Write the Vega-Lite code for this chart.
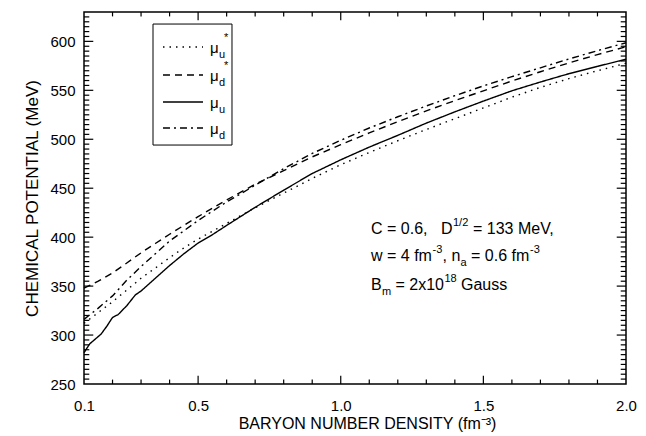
{
  "$schema": "https://vega.github.io/schema/vega-lite/v6.json",
  "autosize": "none",
  "width": 542,
  "height": 372,
  "padding": {"left": 84, "top": 12, "right": 20, "bottom": 52},
  "background": "white",
  "data": {"values": [{}]},
  "config": {
    "view": {"stroke": "black", "strokeWidth": 1.5},
    "text": {"font": "Liberation Sans", "color": "black"}
  },
  "resolve": {"axis": {"x": "independent", "y": "independent"}},
  "layer": [
    {
      "data": {"values": [
        {"n": 0.1, "mu": 312, "s": "μu*"}, {"n": 0.15, "mu": 323, "s": "μu*"}, {"n": 0.2, "mu": 334, "s": "μu*"}, {"n": 0.25, "mu": 346, "s": "μu*"}, {"n": 0.3, "mu": 358, "s": "μu*"}, {"n": 0.35, "mu": 368.5, "s": "μu*"}, {"n": 0.4, "mu": 379, "s": "μu*"}, {"n": 0.45, "mu": 389, "s": "μu*"}, {"n": 0.5, "mu": 398, "s": "μu*"}, {"n": 0.6, "mu": 414, "s": "μu*"}, {"n": 0.7, "mu": 430, "s": "μu*"}, {"n": 0.8, "mu": 445, "s": "μu*"}, {"n": 0.9, "mu": 460, "s": "μu*"}, {"n": 1.0, "mu": 474, "s": "μu*"}, {"n": 1.1, "mu": 486.5, "s": "μu*"}, {"n": 1.2, "mu": 498.5, "s": "μu*"}, {"n": 1.3, "mu": 510, "s": "μu*"}, {"n": 1.4, "mu": 521, "s": "μu*"}, {"n": 1.5, "mu": 532, "s": "μu*"}, {"n": 1.6, "mu": 543, "s": "μu*"}, {"n": 1.7, "mu": 553, "s": "μu*"}, {"n": 1.8, "mu": 562, "s": "μu*"}, {"n": 1.9, "mu": 570, "s": "μu*"}, {"n": 2.0, "mu": 577.6, "s": "μu*"},
        {"n": 0.1, "mu": 348, "s": "μd*"}, {"n": 0.15, "mu": 355, "s": "μd*"}, {"n": 0.2, "mu": 363.5, "s": "μd*"}, {"n": 0.25, "mu": 373.6, "s": "μd*"}, {"n": 0.3, "mu": 384, "s": "μd*"}, {"n": 0.35, "mu": 393.5, "s": "μd*"}, {"n": 0.4, "mu": 403, "s": "μd*"}, {"n": 0.5, "mu": 421, "s": "μd*"}, {"n": 0.6, "mu": 438, "s": "μd*"}, {"n": 0.7, "mu": 454, "s": "μd*"}, {"n": 0.8, "mu": 468, "s": "μd*"}, {"n": 0.9, "mu": 482, "s": "μd*"}, {"n": 1.0, "mu": 494.5, "s": "μd*"}, {"n": 1.1, "mu": 506.5, "s": "μd*"}, {"n": 1.2, "mu": 518, "s": "μd*"}, {"n": 1.3, "mu": 529, "s": "μd*"}, {"n": 1.4, "mu": 539.5, "s": "μd*"}, {"n": 1.5, "mu": 549.5, "s": "μd*"}, {"n": 1.6, "mu": 559.5, "s": "μd*"}, {"n": 1.7, "mu": 569, "s": "μd*"}, {"n": 1.8, "mu": 578, "s": "μd*"}, {"n": 1.9, "mu": 586.5, "s": "μd*"}, {"n": 2.0, "mu": 594.5, "s": "μd*"},
        {"n": 0.1, "mu": 282, "s": "μu"}, {"n": 0.12, "mu": 291, "s": "μu"}, {"n": 0.14, "mu": 296, "s": "μu"}, {"n": 0.16, "mu": 301, "s": "μu"}, {"n": 0.18, "mu": 309, "s": "μu"}, {"n": 0.2, "mu": 318, "s": "μu"}, {"n": 0.22, "mu": 321, "s": "μu"}, {"n": 0.25, "mu": 330, "s": "μu"}, {"n": 0.28, "mu": 341, "s": "μu"}, {"n": 0.3, "mu": 345, "s": "μu"}, {"n": 0.35, "mu": 358, "s": "μu"}, {"n": 0.4, "mu": 371, "s": "μu"}, {"n": 0.45, "mu": 383, "s": "μu"}, {"n": 0.5, "mu": 394, "s": "μu"}, {"n": 0.55, "mu": 402.5, "s": "μu"}, {"n": 0.6, "mu": 412, "s": "μu"}, {"n": 0.7, "mu": 430.5, "s": "μu"}, {"n": 0.8, "mu": 448, "s": "μu"}, {"n": 0.9, "mu": 465, "s": "μu"}, {"n": 1.0, "mu": 479, "s": "μu"}, {"n": 1.1, "mu": 492, "s": "μu"}, {"n": 1.2, "mu": 504, "s": "μu"}, {"n": 1.3, "mu": 516.5, "s": "μu"}, {"n": 1.4, "mu": 528, "s": "μu"}, {"n": 1.5, "mu": 539, "s": "μu"}, {"n": 1.6, "mu": 549.5, "s": "μu"}, {"n": 1.7, "mu": 558.5, "s": "μu"}, {"n": 1.8, "mu": 567, "s": "μu"}, {"n": 1.9, "mu": 574.5, "s": "μu"}, {"n": 2.0, "mu": 581.7, "s": "μu"},
        {"n": 0.1, "mu": 316, "s": "μd"}, {"n": 0.15, "mu": 327.5, "s": "μd"}, {"n": 0.2, "mu": 340, "s": "μd"}, {"n": 0.25, "mu": 356, "s": "μd"}, {"n": 0.3, "mu": 370, "s": "μd"}, {"n": 0.35, "mu": 383, "s": "μd"}, {"n": 0.4, "mu": 396, "s": "μd"}, {"n": 0.5, "mu": 417, "s": "μd"}, {"n": 0.6, "mu": 436, "s": "μd"}, {"n": 0.7, "mu": 453, "s": "μd"}, {"n": 0.8, "mu": 470, "s": "μd"}, {"n": 0.9, "mu": 485.5, "s": "μd"}, {"n": 1.0, "mu": 499, "s": "μd"}, {"n": 1.1, "mu": 511.5, "s": "μd"}, {"n": 1.2, "mu": 523, "s": "μd"}, {"n": 1.3, "mu": 534, "s": "μd"}, {"n": 1.4, "mu": 544.5, "s": "μd"}, {"n": 1.5, "mu": 554.5, "s": "μd"}, {"n": 1.6, "mu": 564, "s": "μd"}, {"n": 1.7, "mu": 573, "s": "μd"}, {"n": 1.8, "mu": 582, "s": "μd"}, {"n": 1.9, "mu": 590.5, "s": "μd"}, {"n": 2.0, "mu": 598.6, "s": "μd"}
      ]},
      "mark": {"type": "line", "color": "black", "strokeWidth": 1.4},
      "encoding": {
        "x": {"field": "n", "type": "quantitative",
          "scale": {"domain": [0.1, 2.0], "nice": false, "zero": false},
          "axis": {"orient": "bottom", "values": [0.1, 0.5, 1.0, 1.5, 2.0], "format": ".1f",
            "ticks": false, "domain": false, "grid": false,
            "labelFlush": false, "labelOverlap": false, "labelPadding": 14,
            "labelFont": "Liberation Sans", "labelFontSize": 15, "labelColor": "black",
            "title": "BARYON NUMBER DENSITY (fm⁻³)", "titleFont": "Liberation Sans", "titleFontSize": 16, "titleFontWeight": "normal", "titleColor": "black", "titlePadding": 2, "titleX": 283}},
        "y": {"field": "mu", "type": "quantitative",
          "scale": {"domain": [250, 630], "nice": false, "zero": false},
          "axis": {"orient": "left", "values": [250, 300, 350, 400, 450, 500, 550, 600],
            "ticks": false, "domain": false, "grid": false,
            "labelFlush": false, "labelOverlap": false, "labelPadding": 9,
            "labelFont": "Liberation Sans", "labelFontSize": 15, "labelColor": "black",
            "title": "CHEMICAL POTENTIAL (MeV)", "titleFont": "Liberation Sans", "titleFontSize": 17, "titleFontWeight": "normal", "titleColor": "black", "titlePadding": 8}},
        "strokeDash": {"field": "s", "type": "nominal",
          "scale": {"domain": ["μu*", "μd*", "μu", "μd"], "range": [[1.5, 5], [7, 5], [1, 0], [7, 4, 2, 4]]},
          "legend": null}
      }
    },
    {"data": {"values": [{"t": 0.2}, {"t": 0.3}, {"t": 0.4}, {"t": 0.6}, {"t": 0.7}, {"t": 0.8}, {"t": 0.9}, {"t": 1.1}, {"t": 1.2}, {"t": 1.3}, {"t": 1.4}, {"t": 1.6}, {"t": 1.7}, {"t": 1.8}, {"t": 1.9}]},
     "layer": [
       {"mark": {"type": "rule", "color": "black", "strokeWidth": 1.2},
        "encoding": {"x": {"field": "t", "type": "quantitative", "axis": null}, "y": {"datum": 250, "type": "quantitative", "axis": null}, "y2": {"datum": 254.5}}},
       {"mark": {"type": "rule", "color": "black", "strokeWidth": 1.2},
        "encoding": {"x": {"field": "t", "type": "quantitative", "axis": null}, "y": {"datum": 630, "type": "quantitative", "axis": null}, "y2": {"datum": 625.5}}}
     ]},
    {"data": {"values": [{"t": 0.5}, {"t": 1.0}, {"t": 1.5}]},
     "layer": [
       {"mark": {"type": "rule", "color": "black", "strokeWidth": 1.2},
        "encoding": {"x": {"field": "t", "type": "quantitative", "axis": null}, "y": {"datum": 250, "type": "quantitative", "axis": null}, "y2": {"datum": 258.5}}},
       {"mark": {"type": "rule", "color": "black", "strokeWidth": 1.2},
        "encoding": {"x": {"field": "t", "type": "quantitative", "axis": null}, "y": {"datum": 630, "type": "quantitative", "axis": null}, "y2": {"datum": 621.5}}}
     ]},
    {"data": {"values": [{"t": 255}, {"t": 260}, {"t": 265}, {"t": 270}, {"t": 275}, {"t": 280}, {"t": 285}, {"t": 290}, {"t": 295}, {"t": 305}, {"t": 310}, {"t": 315}, {"t": 320}, {"t": 325}, {"t": 330}, {"t": 335}, {"t": 340}, {"t": 345}, {"t": 355}, {"t": 360}, {"t": 365}, {"t": 370}, {"t": 375}, {"t": 380}, {"t": 385}, {"t": 390}, {"t": 395}, {"t": 405}, {"t": 410}, {"t": 415}, {"t": 420}, {"t": 425}, {"t": 430}, {"t": 435}, {"t": 440}, {"t": 445}, {"t": 455}, {"t": 460}, {"t": 465}, {"t": 470}, {"t": 475}, {"t": 480}, {"t": 485}, {"t": 490}, {"t": 495}, {"t": 505}, {"t": 510}, {"t": 515}, {"t": 520}, {"t": 525}, {"t": 530}, {"t": 535}, {"t": 540}, {"t": 545}, {"t": 555}, {"t": 560}, {"t": 565}, {"t": 570}, {"t": 575}, {"t": 580}, {"t": 585}, {"t": 590}, {"t": 595}, {"t": 605}, {"t": 610}, {"t": 615}, {"t": 620}, {"t": 625}]},
     "layer": [
       {"mark": {"type": "rule", "color": "black", "strokeWidth": 1.2},
        "encoding": {"y": {"field": "t", "type": "quantitative", "axis": null}, "x": {"datum": 0.1, "type": "quantitative", "axis": null}, "x2": {"datum": 0.1185}}},
       {"mark": {"type": "rule", "color": "black", "strokeWidth": 1.2},
        "encoding": {"y": {"field": "t", "type": "quantitative", "axis": null}, "x": {"datum": 2.0, "type": "quantitative", "axis": null}, "x2": {"datum": 1.9815}}}
     ]},
    {"data": {"values": [{"t": 300}, {"t": 350}, {"t": 400}, {"t": 450}, {"t": 500}, {"t": 550}, {"t": 600}]},
     "layer": [
       {"mark": {"type": "rule", "color": "black", "strokeWidth": 1.2},
        "encoding": {"y": {"field": "t", "type": "quantitative", "axis": null}, "x": {"datum": 0.1, "type": "quantitative", "axis": null}, "x2": {"datum": 0.1325}}},
       {"mark": {"type": "rule", "color": "black", "strokeWidth": 1.2},
        "encoding": {"y": {"field": "t", "type": "quantitative", "axis": null}, "x": {"datum": 2.0, "type": "quantitative", "axis": null}, "x2": {"datum": 1.9675}}}
     ]},
    {
      "mark": {"type": "rect", "fill": "white", "stroke": "black", "strokeWidth": 1},
      "encoding": {
        "x": {"datum": 0.3419, "type": "quantitative", "axis": null},
        "x2": {"datum": 0.6188},
        "y": {"datum": 617.7, "type": "quantitative", "axis": null},
        "y2": {"datum": 494.1}
      }
    },
    {"mark": {"type": "rule", "color": "black", "strokeWidth": 1.4, "strokeDash": [1.5, 5]},
     "encoding": {"x": {"datum": 0.3769, "type": "quantitative", "axis": null}, "x2": {"datum": 0.5172}, "y": {"datum": 594.25, "type": "quantitative", "axis": null}}},
    {"mark": {"type": "rule", "color": "black", "strokeWidth": 1.4, "strokeDash": [7, 5]},
     "encoding": {"x": {"datum": 0.3769, "type": "quantitative", "axis": null}, "x2": {"datum": 0.5172}, "y": {"datum": 565.6, "type": "quantitative", "axis": null}}},
    {"mark": {"type": "rule", "color": "black", "strokeWidth": 1.4},
     "encoding": {"x": {"datum": 0.3769, "type": "quantitative", "axis": null}, "x2": {"datum": 0.5172}, "y": {"datum": 538.1, "type": "quantitative", "axis": null}}},
    {"mark": {"type": "rule", "color": "black", "strokeWidth": 1.4, "strokeDash": [7, 4, 2, 4]},
     "encoding": {"x": {"datum": 0.3769, "type": "quantitative", "axis": null}, "x2": {"datum": 0.5172}, "y": {"datum": 511.5, "type": "quantitative", "axis": null}}},

    {"mark": {"type": "text", "text": "μ", "align": "left", "baseline": "middle", "fontSize": 15, "dx": 2, "dy": 1},
     "encoding": {"x": {"datum": 0.5347, "type": "quantitative", "axis": null}, "y": {"datum": 594.25, "type": "quantitative", "axis": null}}},
    {"mark": {"type": "text", "text": "u", "align": "left", "baseline": "middle", "fontSize": 11, "dx": 11, "dy": 8},
     "encoding": {"x": {"datum": 0.5347, "type": "quantitative", "axis": null}, "y": {"datum": 594.25, "type": "quantitative", "axis": null}}},
    {"mark": {"type": "text", "text": "*", "align": "left", "baseline": "middle", "fontSize": 11, "dx": 16, "dy": -9},
     "encoding": {"x": {"datum": 0.5347, "type": "quantitative", "axis": null}, "y": {"datum": 594.25, "type": "quantitative", "axis": null}}},

    {"mark": {"type": "text", "text": "μ", "align": "left", "baseline": "middle", "fontSize": 15, "dx": 2, "dy": 1},
     "encoding": {"x": {"datum": 0.5347, "type": "quantitative", "axis": null}, "y": {"datum": 565.6, "type": "quantitative", "axis": null}}},
    {"mark": {"type": "text", "text": "d", "align": "left", "baseline": "middle", "fontSize": 11, "dx": 11, "dy": 8},
     "encoding": {"x": {"datum": 0.5347, "type": "quantitative", "axis": null}, "y": {"datum": 565.6, "type": "quantitative", "axis": null}}},
    {"mark": {"type": "text", "text": "*", "align": "left", "baseline": "middle", "fontSize": 11, "dx": 16, "dy": -9},
     "encoding": {"x": {"datum": 0.5347, "type": "quantitative", "axis": null}, "y": {"datum": 565.6, "type": "quantitative", "axis": null}}},

    {"mark": {"type": "text", "text": "μ", "align": "left", "baseline": "middle", "fontSize": 15, "dx": 2, "dy": 1},
     "encoding": {"x": {"datum": 0.5347, "type": "quantitative", "axis": null}, "y": {"datum": 538.1, "type": "quantitative", "axis": null}}},
    {"mark": {"type": "text", "text": "u", "align": "left", "baseline": "middle", "fontSize": 11, "dx": 11, "dy": 8},
     "encoding": {"x": {"datum": 0.5347, "type": "quantitative", "axis": null}, "y": {"datum": 538.1, "type": "quantitative", "axis": null}}},

    {"mark": {"type": "text", "text": "μ", "align": "left", "baseline": "middle", "fontSize": 15, "dx": 2, "dy": 1},
     "encoding": {"x": {"datum": 0.5347, "type": "quantitative", "axis": null}, "y": {"datum": 511.5, "type": "quantitative", "axis": null}}},
    {"mark": {"type": "text", "text": "d", "align": "left", "baseline": "middle", "fontSize": 11, "dx": 11, "dy": 8},
     "encoding": {"x": {"datum": 0.5347, "type": "quantitative", "axis": null}, "y": {"datum": 511.5, "type": "quantitative", "axis": null}}},

    {"mark": {"type": "text", "text": "C = 0.6,", "align": "left", "baseline": "middle", "fontSize": 16},
     "encoding": {"x": {"datum": 1.1061, "type": "quantitative", "axis": null}, "y": {"datum": 408.4, "type": "quantitative", "axis": null}}},
    {"mark": {"type": "text", "text": "D", "align": "left", "baseline": "middle", "fontSize": 16, "dx": 70},
     "encoding": {"x": {"datum": 1.1061, "type": "quantitative", "axis": null}, "y": {"datum": 408.4, "type": "quantitative", "axis": null}}},
    {"mark": {"type": "text", "text": "1/2", "align": "left", "baseline": "middle", "fontSize": 11, "dx": 82, "dy": -6},
     "encoding": {"x": {"datum": 1.1061, "type": "quantitative", "axis": null}, "y": {"datum": 408.4, "type": "quantitative", "axis": null}}},
    {"mark": {"type": "text", "text": "= 133 MeV,", "align": "left", "baseline": "middle", "fontSize": 16, "dx": 102},
     "encoding": {"x": {"datum": 1.1061, "type": "quantitative", "axis": null}, "y": {"datum": 408.4, "type": "quantitative", "axis": null}}},

    {"mark": {"type": "text", "text": "w = 4 fm", "align": "left", "baseline": "middle", "fontSize": 16},
     "encoding": {"x": {"datum": 1.1061, "type": "quantitative", "axis": null}, "y": {"datum": 380.8, "type": "quantitative", "axis": null}}},
    {"mark": {"type": "text", "text": "-3", "align": "left", "baseline": "middle", "fontSize": 11, "dx": 61.5, "dy": -6},
     "encoding": {"x": {"datum": 1.1061, "type": "quantitative", "axis": null}, "y": {"datum": 380.8, "type": "quantitative", "axis": null}}},
    {"mark": {"type": "text", "text": ", n", "align": "left", "baseline": "middle", "fontSize": 16, "dx": 71.5},
     "encoding": {"x": {"datum": 1.1061, "type": "quantitative", "axis": null}, "y": {"datum": 380.8, "type": "quantitative", "axis": null}}},
    {"mark": {"type": "text", "text": "a", "align": "left", "baseline": "middle", "fontSize": 11, "dx": 89.5, "dy": 7},
     "encoding": {"x": {"datum": 1.1061, "type": "quantitative", "axis": null}, "y": {"datum": 380.8, "type": "quantitative", "axis": null}}},
    {"mark": {"type": "text", "text": "= 0.6 fm", "align": "left", "baseline": "middle", "fontSize": 16, "dx": 100},
     "encoding": {"x": {"datum": 1.1061, "type": "quantitative", "axis": null}, "y": {"datum": 380.8, "type": "quantitative", "axis": null}}},
    {"mark": {"type": "text", "text": "-3", "align": "left", "baseline": "middle", "fontSize": 11, "dx": 159, "dy": -6},
     "encoding": {"x": {"datum": 1.1061, "type": "quantitative", "axis": null}, "y": {"datum": 380.8, "type": "quantitative", "axis": null}}},

    {"mark": {"type": "text", "text": "B", "align": "left", "baseline": "middle", "fontSize": 16},
     "encoding": {"x": {"datum": 1.1061, "type": "quantitative", "axis": null}, "y": {"datum": 351.2, "type": "quantitative", "axis": null}}},
    {"mark": {"type": "text", "text": "m", "align": "left", "baseline": "middle", "fontSize": 11, "dx": 11, "dy": 7},
     "encoding": {"x": {"datum": 1.1061, "type": "quantitative", "axis": null}, "y": {"datum": 351.2, "type": "quantitative", "axis": null}}},
    {"mark": {"type": "text", "text": "= 2x10", "align": "left", "baseline": "middle", "fontSize": 16, "dx": 24.5},
     "encoding": {"x": {"datum": 1.1061, "type": "quantitative", "axis": null}, "y": {"datum": 351.2, "type": "quantitative", "axis": null}}},
    {"mark": {"type": "text", "text": "18", "align": "left", "baseline": "middle", "fontSize": 11, "dx": 73.5, "dy": -6},
     "encoding": {"x": {"datum": 1.1061, "type": "quantitative", "axis": null}, "y": {"datum": 351.2, "type": "quantitative", "axis": null}}},
    {"mark": {"type": "text", "text": "Gauss", "align": "left", "baseline": "middle", "fontSize": 16, "dx": 90},
     "encoding": {"x": {"datum": 1.1061, "type": "quantitative", "axis": null}, "y": {"datum": 351.2, "type": "quantitative", "axis": null}}}
  ]
}
